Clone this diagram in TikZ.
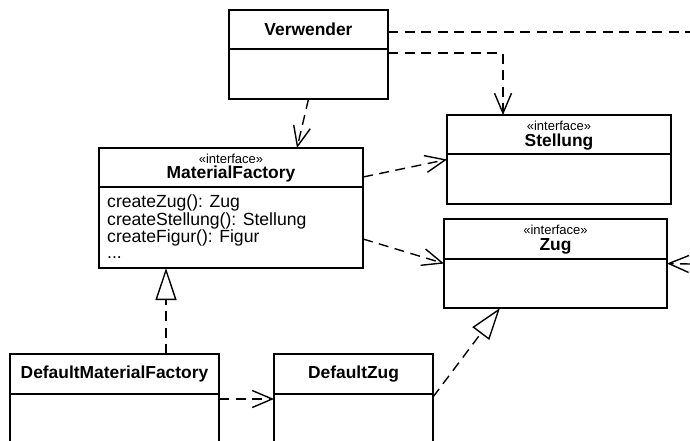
\documentclass[tikz,border=0pt]{standalone}
\usepackage{fontspec}
\setmainfont{Liberation Sans}
\usetikzlibrary{arrows.meta}

\tikzset{
  classbox/.style={draw, line width=1.4pt, fill=white, inner sep=0pt, outer sep=0pt, anchor=north west},
  divider/.style={line width=1.4pt},
  ctitle/.style={font=\bfseries\fontsize{17.4}{20}\selectfont, anchor=base, inner sep=0pt},
  stereo/.style={font=\fontsize{13}{15}\selectfont, anchor=base, inner sep=0pt},
  members/.style={font=\fontsize{17.6}{15.8}\selectfont, anchor=north west, align=left, inner sep=0pt},
  dep/.style={line width=1.4pt, dash pattern=on 10pt off 6.5pt,
    -{Straight Barb[length=20pt, width=17pt, line width=1.4pt]}},
  depline/.style={line width=1.4pt, dash pattern=on 10pt off 6.5pt},
  realize/.style={line width=1.4pt, dash pattern=on 10pt off 6.5pt,
    -{Triangle[open, length=32pt, width=21pt, line width=1.4pt, fill=white]}}
}

\begin{document}
\begin{tikzpicture}[x=1pt, y=-1pt]
  \useasboundingbox (0,0) rectangle (690,440);
  \clip (0,0) rectangle (690,440);

  % class boxes
  \node[classbox, minimum width=159pt, minimum height=89pt] (vw) at (229,10) {};
  \node[classbox, minimum width=224pt, minimum height=89pt] (st) at (447,115) {};
  \node[classbox, minimum width=223pt, minimum height=89pt] (zug) at (444,219) {};
  \node[classbox, minimum width=264pt, minimum height=120pt] (mf) at (99,148) {};
  \node[classbox, minimum width=209pt, minimum height=90pt] (dmf) at (10,354) {};
  \node[classbox, minimum width=159pt, minimum height=90pt] (dz) at (274,354) {};

  % compartment dividers
  \draw[divider] ([yshift=-39pt]vw.north west) -- ([yshift=-39pt]vw.north east);
  \draw[divider] ([yshift=-39pt]st.north west) -- ([yshift=-39pt]st.north east);
  \draw[divider] ([yshift=-40pt]zug.north west) -- ([yshift=-40pt]zug.north east);
  \draw[divider] ([yshift=-39pt]mf.north west) -- ([yshift=-39pt]mf.north east);
  \draw[divider] ([yshift=-40pt]dmf.north west) -- ([yshift=-40pt]dmf.north east);
  \draw[divider] ([yshift=-40pt]dz.north west) -- ([yshift=-40pt]dz.north east);

  % names and stereotypes
  \node[ctitle] (vwname) at (308.5,35) {Verwender};
  \node[stereo] (ststereo) at (559,130) {«interface»};
  \node[ctitle] (stname) at (559,146) {Stellung};
  \node[stereo] (zugstereo) at (555.5,234) {«interface»};
  \node[ctitle] (zugname) at (555.5,250) {Zug};
  \node[stereo] (mfstereo) at (231,163) {«interface»};
  \node[ctitle] (mfname) at (231,178) {MaterialFactory};
  \node[ctitle] (dmfname) at (114.5,378) {DefaultMaterialFactory};
  \node[ctitle] (dzname) at (353.5,378) {DefaultZug};

  % operations
  \node[members] (mfops) at (107,195) {createZug(): Zug\\createStellung(): Stellung\\createFigur(): Figur\\...};

  % free ends at the border
  \coordinate (edgetop) at (690,32);
  \coordinate (edgezug) at (690,264);

  % dependencies
  \draw[depline] (vw.east |- edgetop) -- (edgetop);
  \draw[dep] ([yshift=1.5pt]vw.east) -| ([xshift=-56pt]st.north);
  \draw[dep] (vw.south) -- ([xshift=66pt]mf.north);
  \draw[dep] ([yshift=31pt]mf.east) -- (st.west);
  \draw[dep] ([yshift=-31pt]mf.east) -- (zug.west);
  \draw[dep] (edgezug) -- (zug.east);
  \draw[dep] (dmf.east) -- (dz.west);

  % realizations
  \draw[realize] ([xshift=51.5pt]dmf.north) -- ([xshift=51.5pt]dmf.north |- mf.south);
  \draw[realize] ([yshift=2pt]dz.east) -- ([xshift=-55.5pt]zug.south);
\end{tikzpicture}
\end{document}
